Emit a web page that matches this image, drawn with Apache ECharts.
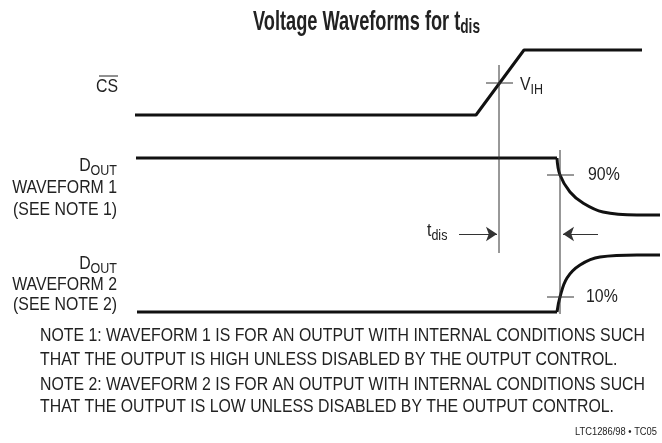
<!DOCTYPE html>
<html><head><meta charset="utf-8">
<script src="https://cdn.jsdelivr.net/npm/echarts@6/dist/echarts.min.js"></script>
<style>html,body{margin:0;padding:0;background:#fff}#c{width:662px;height:443px}</style>
</head><body><div id="c"></div>
<script>
// Waveform data (diagram units: x = time position, y = level position)
const csWave = [[135,115],[476,115],[524,50],[642,50]];
const dout1Flat = [[136,158],[557,158]];
const dout1Decay = [[557,158],[560,175],[570,192],[583,203],[603,212],[637,215],[660,215]];
const dout2Flat = [[137,312],[557,312]];
const dout2Rise = [[557,312],[560,297],[567,278],[580,265],[600,257],[637,255],[660,255]];
const refLines = [
  [[499,65],[499,253]],   // CS V_IH reference
  [[486,83],[513,83]],    // V_IH tick
  [[560,150],[560,314]],  // output reference
  [[547,175],[574,175]],  // 90% tick
  [[547,297],[574,297]]   // 10% tick
];
const arrows = [
  [[459,234],[497,234]],
  [[598,234],[563,234]]
];
const titleText = 'Voltage Waveforms for t';
const titleSub = 'dis';
const notes = [
  'NOTE 1: WAVEFORM 1 IS FOR AN OUTPUT WITH INTERNAL CONDITIONS SUCH',
  'THAT THE OUTPUT IS HIGH UNLESS DISABLED BY THE OUTPUT CONTROL.',
  'NOTE 2: WAVEFORM 2 IS FOR AN OUTPUT WITH INTERNAL CONDITIONS SUCH',
  'THAT THE OUTPUT IS LOW UNLESS DISABLED BY THE OUTPUT CONTROL.'
];
const footer = 'LTC1286/98 \u2022 TC05';

const FONT = '"Liberation Sans","Arial",sans-serif';
const ctx = document.createElement('canvas').getContext('2d');
function measure(font, s){ ctx.font = font; return ctx.measureText(s).width; }
// condensation factors so text spans the same widths as in the reference
const SX = 605 / measure('19px ' + FONT, notes[0]);
const TSX = 227 / (measure('bold 28px ' + FONT, titleText) + measure('bold 21px ' + FONT, titleSub));
const FSX = 82 / measure('10px ' + FONT, footer);

const chart = echarts.init(document.getElementById('c'));
const thick = {color:'#111', width:3};
const thin = {color:'#333', width:1};
const series = [];
function addLine(data, style, smooth){
  series.push({type:'line', data, symbol:'none', smooth: smooth||false, lineStyle:style, silent:true, animation:false});
}
addLine(csWave, thick);
addLine(dout1Flat, thick);
addLine(dout1Decay, thick, 0.4);
addLine(dout2Flat, thick);
addLine(dout2Rise, thick, 0.4);
refLines.forEach(l => addLine(l, thin));
series.push({type:'lines', coordinateSystem:'cartesian2d', symbol:['none','arrow'], symbolSize:[6,11],
  lineStyle:{color:'#333', width:1, opacity:1}, data: arrows.map(c=>({coords:c})), animation:false, silent:true});

function txt(x,y,text,opt,sx){
  return {type:'text', x, y, scaleX: sx||SX, silent:true,
    style:Object.assign({text, font:'19px '+FONT, fill:'#222', textAlign:'left', textVerticalAlign:'middle'}, opt||{})};
}
const subRich = {sub:{fontSize:15, fontFamily:FONT, padding:[9,0,0,0], fill:'#222'}};
const graphic = [
  {type:'text', x:253, y:22, scaleX:TSX, silent:true,
    style:{text:titleText+'{sub|'+titleSub+'}', font:'bold 28px '+FONT, fill:'#222', textAlign:'left', textVerticalAlign:'middle',
    rich:{sub:{fontSize:21, fontWeight:'bold', fontFamily:FONT, padding:[10,0,0,0], fill:'#222'}}}},
  txt(118,87,'CS',{textAlign:'right'}),
  {type:'line', shape:{x1:99,y1:76,x2:118,y2:76}, style:{stroke:'#222', lineWidth:1}, silent:true},
  txt(520,85,'V{sub|IH}',{rich:subRich}),
  txt(117,166,'D{sub|OUT}',{textAlign:'right', rich:subRich}),
  txt(117,188,'WAVEFORM 1',{textAlign:'right'}),
  txt(117,210,'(SEE NOTE 1)',{textAlign:'right'}),
  txt(117,264,'D{sub|OUT}',{textAlign:'right', rich:subRich}),
  txt(117,285,'WAVEFORM 2',{textAlign:'right'}),
  txt(117,305,'(SEE NOTE 2)',{textAlign:'right'}),
  txt(588,175,'90%'),
  txt(586,297,'10%'),
  txt(427,231,'t{sub|dis}',{rich:subRich}),
  txt(40,336,notes[0]),
  txt(40,360,notes[1]),
  txt(40,385,notes[2]),
  txt(40,407,notes[3]),
  txt(657,432,footer,{font:'10px '+FONT, textAlign:'right'}, FSX)
];
chart.setOption({
  animation:false,
  grid:{left:0,right:0,top:0,bottom:0},
  xAxis:{type:'value', min:0, max:662, show:false},
  yAxis:{type:'value', min:0, max:443, inverse:true, show:false},
  series, graphic
});
</script></body></html>
